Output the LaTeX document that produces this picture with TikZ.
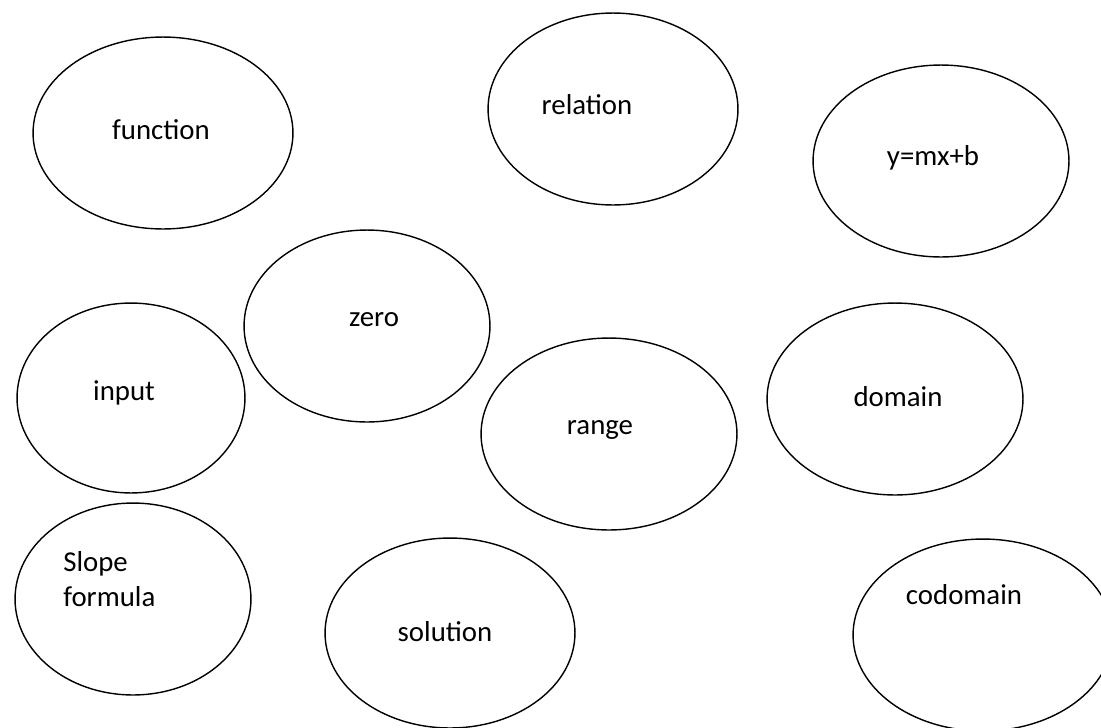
\documentclass[tikz,border=0pt]{standalone}
\usepackage{fontspec}
\setmainfont{Carlito}
\usetikzlibrary{shapes.geometric}

\begin{document}
\begin{tikzpicture}[x=0.02cm, y=-0.02cm,
    bubble/.style 2 args={draw, ellipse, line width=0.8pt, inner sep=0pt,
      minimum width=#1*0.04cm, minimum height=#2*0.04cm},
    word/.style={font=\fontsize{16.4}{19.8}\selectfont, inner sep=0pt}]
  \useasboundingbox (0,0) rectangle (1101,727);
  \clip (0,0) rectangle (1101,727);
  % top row
  \node[bubble={130}{96}] (function) at (163,133) {};
  \node[word] (functiontext) at (161,130) {function};
  \node[bubble={125}{96}] (relation) at (613,109) {};
  \node[word] (relationtext) at (587,105) {relation};
  \node[bubble={128}{96}] (ymxb) at (941,161) {};
  \node[word] (ymxbtext) at (933,158) {y=mx+b};
  % middle row
  \node[bubble={123}{96}] (zero) at (367,326) {};
  \node[word] (zerotext) at (374,320) {zero};
  \node[bubble={114}{95}] (input) at (131,398) {};
  \node[word] (inputtext) at (124,393) {input};
  \node[bubble={128}{96}] (range) at (609,434) {};
  \node[word] (rangetext) at (600,430) {range};
  \node[bubble={128}{96}] (domain) at (895,399) {};
  \node[word] (domaintext) at (898,397) {domain};
  % bottom row
  \node[bubble={118}{96}] (slope) at (133,599) {};
  \node[word, anchor=west, align=left] (slopetext) at (63,579) {Slope\\formula};
  \node[bubble={125}{95}] (solution) at (450,633) {};
  \node[word] (solutiontext) at (445,632) {solution};
  \node[bubble={130}{96}] (codomain) at (983,635) {};
  \node[word] (codomaintext) at (964,595) {codomain};
\end{tikzpicture}
\end{document}
